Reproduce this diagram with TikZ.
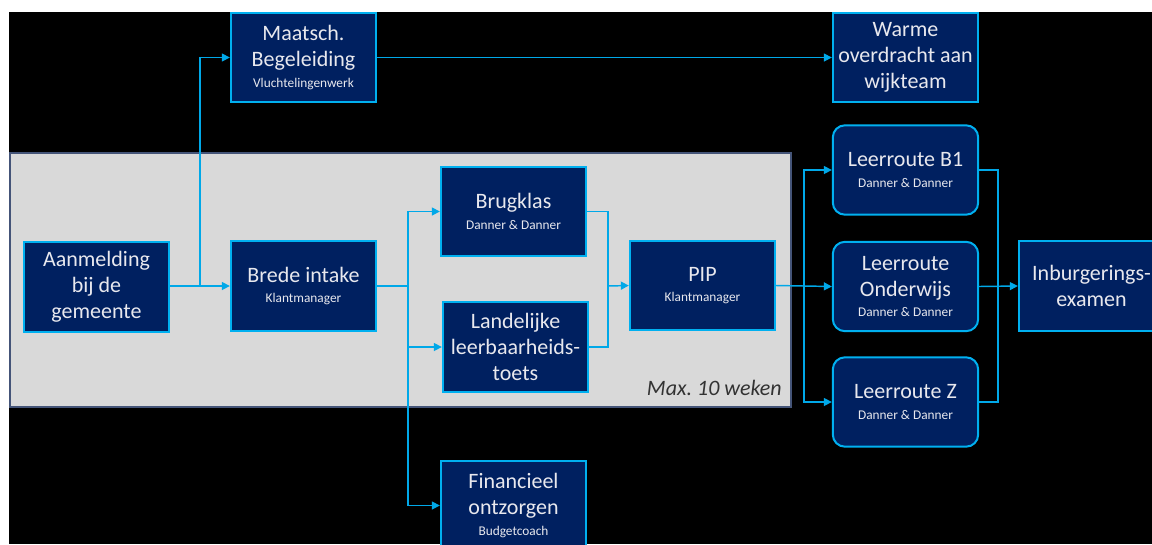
\documentclass[tikz,border=0pt]{standalone}
\usepackage{fontspec}
\setmainfont{Carlito}
\usetikzlibrary{arrows.meta}
\definecolor{navy}{RGB}{0,32,96}
\definecolor{lijnblauw}{RGB}{0,168,232}
\definecolor{rand}{RGB}{0,176,240}
\definecolor{tekstwit}{RGB}{232,232,238}
\definecolor{vlakgrijs}{RGB}{217,217,217}
\definecolor{vlakrand}{RGB}{68,84,120}
\definecolor{donkergrijs}{RGB}{50,50,50}
\newcommand{\kleintxt}{\fontsize{10}{12}\selectfont}
\frenchspacing
\tikzset{
	box/.style={draw=rand, line width=1.5pt, fill=navy, text=tekstwit, align=center,
		minimum width=109pt, minimum height=67pt, inner sep=2pt,
		font=\fontsize{16.5}{19.5}\selectfont},
	routebox/.style={box, rounded corners=9pt},
	conn/.style={draw=lijnblauw, line width=1.1pt},
	pijl/.style={conn, -{Triangle[length=6pt,width=6pt]}}}

\begin{document}
\begin{tikzpicture}[x=0.75pt,y=0.75pt,yscale=-1,xscale=1]
	\useasboundingbox (0,0) rectangle (1152,544);
	\clip (0,0) rectangle (1152,544);

	% achtergrond
	\fill[black] (9,12) rectangle (1152,544);
	% grijs vlak
	\draw[fill=vlakgrijs, draw=vlakrand, line width=0.8pt] (10,153) rectangle (791,407);
	\node[anchor=base east, text=donkergrijs, inner sep=0pt, font=\fontsize{16.5}{19.5}\selectfont\itshape] (maxtijd) at (782,395) {Max. 10 weken};

	% blokken
	\node[box] (aanm) at (96.5,287) {Aanmelding\\bij de\\gemeente};
	\node[box] (intake) at (303.5,286) {Brede intake\\[-4pt]{\kleintxt Klantmanager}};
	\node[box] (maatsch) at (303.5,57.5) {Maatsch.\\Begeleiding\\[-4pt]{\kleintxt Vluchtelingenwerk}};
	\node[box] (warme) at (905.5,57.5) {Warme\\overdracht aan\\wijkteam};
	\node[box] (brug) at (513.5,211.5) {Brugklas\\[-4pt]{\kleintxt Danner \& Danner}};
	\node[box] (land) at (515.5,347) {Landelijke\\leerbaarheids-\\toets};
	\node[box] (fin) at (513.5,505.5) {Financieel\\ontzorgen\\[-4pt]{\kleintxt Budgetcoach}};
	\node[box] (pip) at (702.5,285.5) {PIP\\[-4pt]{\kleintxt Klantmanager}};
	\node[routebox] (b1) at (905.5,170) {Leerroute B1\\[-4pt]{\kleintxt Danner \& Danner}};
	\node[routebox] (ondw) at (905.5,286.5) {Leerroute\\Onderwijs\\[-4pt]{\kleintxt Danner \& Danner}};
	\node[routebox] (routez) at (905.5,402) {Leerroute Z\\[-4pt]{\kleintxt Danner \& Danner}};
	\node[box] (inburg) at (1091.5,286) {Inburgerings-\\examen};

	% knooppunten
	\coordinate (j1) at (200,286);
	\coordinate (j2) at (408,286);
	\coordinate (j3) at (608,286);
	\coordinate (j4) at (804,286);
	\coordinate (j5) at (998,286);

	% verbindingen
	\draw[pijl] (j1 -| aanm.east) -- (j1 -| intake.west);
	\draw[pijl] (j1) |- (maatsch.west);
	\draw[pijl] (maatsch.east) -- (warme.west);
	\draw[conn] (intake.east) -- (j2);
	\draw[pijl] (j2) |- (brug.west);
	\draw[pijl] (j2) |- (land.west);
	\draw[pijl] (j2) |- (fin.west);
	\draw[conn] (brug.east) -| (j3);
	\draw[conn] (land.east) -| (j3);
	\draw[pijl] (j3) -- (pip.west);
	\draw[conn] (pip.east) -- (j4);
	\draw[pijl] (j4) |- (b1.west);
	\draw[pijl] (j4) -- (ondw.west);
	\draw[pijl] (j4) |- (routez.west);
	\draw[conn] (b1.east) -| (j5);
	\draw[conn] (routez.east) -| (j5);
	\draw[pijl] (ondw.east) -- (inburg.west);

\end{tikzpicture}
\end{document}
